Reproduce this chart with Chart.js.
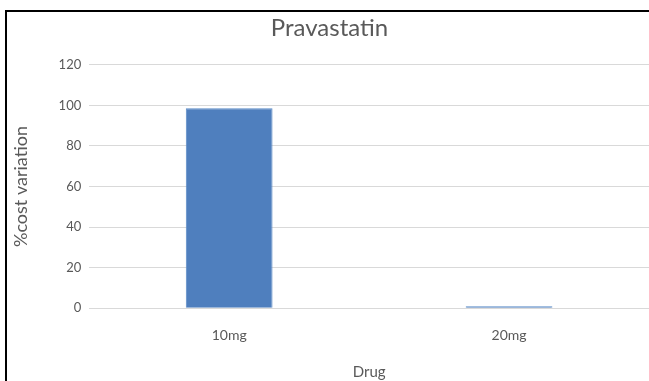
<!DOCTYPE html>
<html>
<head>
<meta charset="utf-8">
<script src="https://cdn.jsdelivr.net/npm/chart.js@4.4.1/dist/chart.umd.min.js"></script>
<style>
  html, body { margin: 0; padding: 0; background: #fff; overflow: hidden; }
  #wrap { position: relative; width: 649px; height: 381px; }
  #frame { position: absolute; left: 5px; top: 10px; width: 700px; height: 400px;
           border: 2px solid #000; box-sizing: border-box; pointer-events: none; }
  canvas { position: absolute; left: 0; top: 0; }
</style>
</head>
<body>
<div id="wrap">
  <canvas id="c" width="649" height="381"></canvas>
  <div id="frame"></div>
</div>
<script>
const categories = ['10mg', '20mg'];
const costVariation = [98.6, 1.0];
const yTicks = [0, 20, 40, 60, 80, 100, 120];

const textColor = '#595959';
const fontFamily = 'Lato, "Open Sans", sans-serif';

new Chart(document.getElementById('c'), {
  type: 'bar',
  data: {
    labels: categories,
    datasets: [{
      label: '%cost variation',
      data: costVariation,
      backgroundColor: '#4F7FBE',
      borderColor: '#5A8AC6',
      borderWidth: 1,
      categoryPercentage: 1.0,
      barPercentage: 0.31
    }]
  },
  options: {
    responsive: false,
    animation: false,
    layout: { padding: { left: 10, right: 0, top: 14, bottom: 0 } },
    plugins: {
      legend: { display: false },
      tooltip: { enabled: false },
      title: {
        display: true,
        text: 'Pravastatin',
        color: textColor,
        font: { family: fontFamily, size: 24, weight: 'normal' },
        padding: { top: 0, bottom: 22 }
      }
    },
    scales: {
      x: {
        grid: { display: false, drawTicks: false },
        border: { display: false },
        ticks: { color: textColor, font: { family: fontFamily, size: 14 }, padding: 19, maxRotation: 0 },
        title: {
          display: true, text: 'Drug', color: textColor,
          font: { family: fontFamily, size: 15 }, padding: { top: 0, bottom: 0 }
        }
      },
      y: {
        min: 0, max: 120,
        afterBuildTicks: (axis) => { axis.ticks = yTicks.map(v => ({ value: v })); },
        grid: { color: '#D9D9D9', drawTicks: false, lineWidth: 1 },
        border: { display: false },
        ticks: { color: textColor, font: { family: fontFamily, size: 13 }, padding: 8 },
        title: {
          display: true, text: '%cost variation', color: textColor,
          font: { family: fontFamily, size: 18 }, padding: { top: 0, bottom: 19 }
        }
      }
    }
  }
});
</script>
</body>
</html>
